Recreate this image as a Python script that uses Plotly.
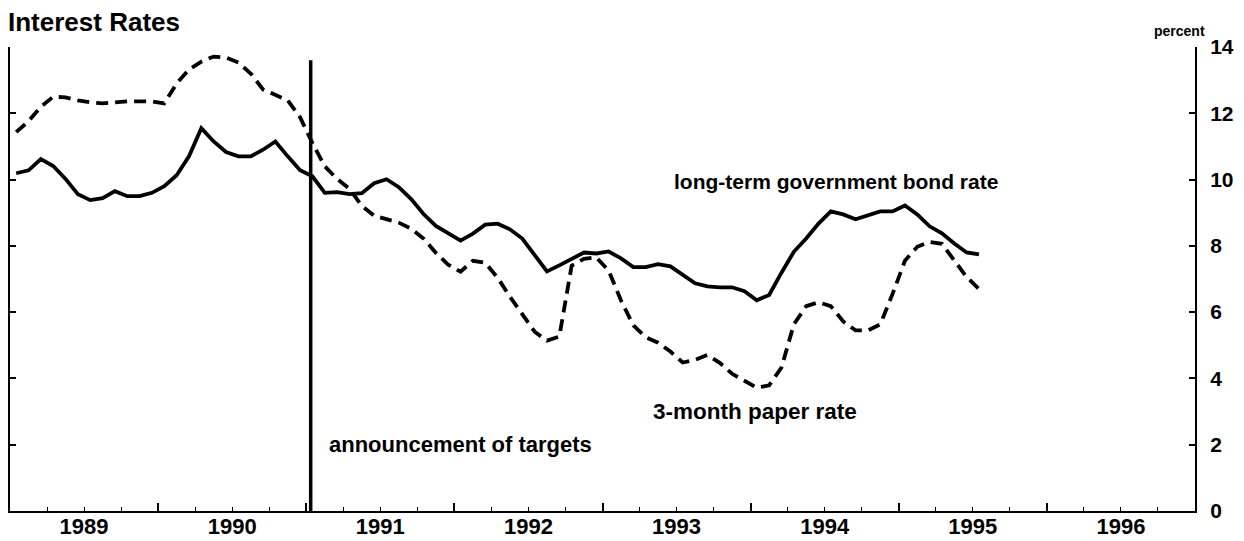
import plotly.graph_objects as go

# ---------------- data ----------------
start_year = 1989
years = [1989, 1990, 1991, 1992, 1993, 1994, 1995, 1996]
year_labels = ["1989", "1990", "1991", "1992", "1993", "1994", "1995", "1996"]
y_ticks = [2, 4, 6, 8, 10, 12, 14]
y_tick_labels = ["2", "4", "6", "8", "10", "12", "14"]

# monthly, Jan 1989 - Jul 1995
bond_rate = [
    10.19, 10.28, 10.62, 10.41, 10.02, 9.56, 9.38, 9.44, 9.65, 9.50, 9.50, 9.60,
    9.80, 10.13, 10.70, 11.55, 11.15, 10.83, 10.70, 10.70, 10.90, 11.15, 10.70, 10.28,
    10.10, 9.60, 9.62, 9.56, 9.59, 9.89, 10.01, 9.77, 9.41, 8.96, 8.60, 8.39,
    8.16, 8.37, 8.64, 8.67, 8.50, 8.22, 7.71, 7.23, 7.41, 7.62, 7.80, 7.77,
    7.83, 7.62, 7.36, 7.36, 7.45, 7.38, 7.11, 6.87, 6.78, 6.75, 6.75, 6.63,
    6.36, 6.52, 7.19, 7.82, 8.22, 8.67, 9.04, 8.95, 8.80, 8.92, 9.04, 9.04,
    9.22, 8.95, 8.59, 8.38, 8.07, 7.80, 7.74,
]
paper_rate = [
    11.43, 11.76, 12.20, 12.50, 12.48, 12.39, 12.33, 12.30, 12.33, 12.36, 12.36, 12.36,
    12.30, 12.90, 13.32, 13.56, 13.71, 13.68, 13.53, 13.20, 12.72, 12.54, 12.39, 11.88,
    11.10, 10.40, 10.02, 9.72, 9.21, 8.91, 8.79, 8.70, 8.52, 8.22, 7.79, 7.43,
    7.22, 7.55, 7.49, 7.04, 6.47, 5.95, 5.41, 5.14, 5.26, 7.40, 7.61, 7.65,
    7.25, 6.35, 5.60, 5.24, 5.08, 4.81, 4.48, 4.56, 4.71, 4.47, 4.14, 3.93,
    3.72, 3.79, 4.33, 5.63, 6.18, 6.30, 6.18, 5.72, 5.45, 5.45, 5.63, 6.55,
    7.55, 7.97, 8.12, 8.06, 7.55, 7.06, 6.70,
]
announcement_date = 1991.03
announcement_top = 13.6

# month midpoints in decimal years
bond_x = [start_year + (i + 0.5) / 12 for i in range(len(bond_rate))]
paper_x = [start_year + (i + 0.5) / 12 for i in range(len(paper_rate))]

FONT = "Liberation Sans, Arial, Helvetica, sans-serif"
x_range = [years[0], years[-1] + 1]
y_range = [0, 14]

fig = go.Figure()
fig.add_trace(go.Scatter(
    x=bond_x, y=bond_rate, mode="lines", name="long-term government bond rate",
    line=dict(color="black", width=3.8), xaxis="x", yaxis="y"))
fig.add_trace(go.Scatter(
    x=paper_x, y=paper_rate, mode="lines", name="3-month paper rate",
    line=dict(color="black", width=3.8, dash="12px,7px"), xaxis="x", yaxis="y"))
fig.add_trace(go.Scatter(
    x=[announcement_date, announcement_date], y=[0, announcement_top], mode="lines",
    name="announcement", line=dict(color="black", width=3.5), xaxis="x2", yaxis="y2"))

# the page body adds an 8px offset, so the figure is 8px smaller and margins shifted
fig.update_layout(
    template="none",
    width=1236, height=533,
    margin=dict(l=2, r=49, t=39, b=30, autoexpand=False),
    paper_bgcolor="white", plot_bgcolor="white",
    showlegend=False,
    font=dict(family=FONT, color="black"),
    xaxis=dict(
        range=x_range, tickvals=years[1:], ticks="inside", ticklen=8, tickwidth=1.5,
        tickcolor="black", showticklabels=False,
        minor=dict(tick0=years[0], dtick=0.25, ticks="inside", ticklen=4,
                   tickwidth=1.2, tickcolor="black", showgrid=False),
        showline=True, linewidth=2, linecolor="black", automargin=False,
        showgrid=False, zeroline=False, anchor="y", fixedrange=True),
    xaxis2=dict(
        range=x_range, overlaying="x", side="bottom", anchor="y",
        tickvals=[y + 0.5 for y in years], ticktext=year_labels, ticks="",
        tickfont=dict(size=22, weight="bold", family=FONT), automargin=False,
        showline=False, showgrid=False, zeroline=False),
    yaxis=dict(
        range=y_range, side="right", tickvals=[0] + y_ticks, ticktext=["0"] + y_tick_labels,
        ticks="inside", ticklen=6, tickwidth=1.5, tickcolor="black",
        ticklabelstandoff=9, automargin=False,
        tickfont=dict(size=21, weight="bold", family=FONT),
        showline=True, linewidth=2, linecolor="black",
        showgrid=False, zeroline=False, anchor="x"),
    yaxis2=dict(
        range=y_range, overlaying="y", side="left", anchor="x", automargin=False,
        tickvals=y_ticks, ticks="inside", ticklen=6, tickwidth=1.5, tickcolor="black",
        showticklabels=False, showline=True, linewidth=2, linecolor="black",
        showgrid=False, zeroline=False),
)

fig.add_annotation(
    text="Interest Rates", xref="paper", yref="paper", x=-0.003, y=1.054,
    xanchor="left", yanchor="middle", showarrow=False,
    font=dict(size=26, weight="bold", family=FONT))
fig.add_annotation(
    text="percent", xref="paper", yref="paper", x=0.987, y=1.034,
    xanchor="center", yanchor="middle", showarrow=False,
    font=dict(size=14, weight="bold", family=FONT))
fig.add_annotation(
    text="long-term government bond rate", xref="x", yref="y", x=1993.47, y=9.94,
    xanchor="left", yanchor="middle", showarrow=False,
    font=dict(size=21, weight="bold", family=FONT))
fig.add_annotation(
    text="3-month paper rate", xref="x", yref="y", x=1993.33, y=3.0,
    xanchor="left", yanchor="middle", showarrow=False,
    font=dict(size=22.5, weight="bold", family=FONT))
fig.add_annotation(
    text="announcement of targets", xref="x", yref="y", x=1991.14, y=2.0,
    xanchor="left", yanchor="middle", showarrow=False,
    font=dict(size=22, weight="bold", family=FONT))

fig.write_html("out.html")
